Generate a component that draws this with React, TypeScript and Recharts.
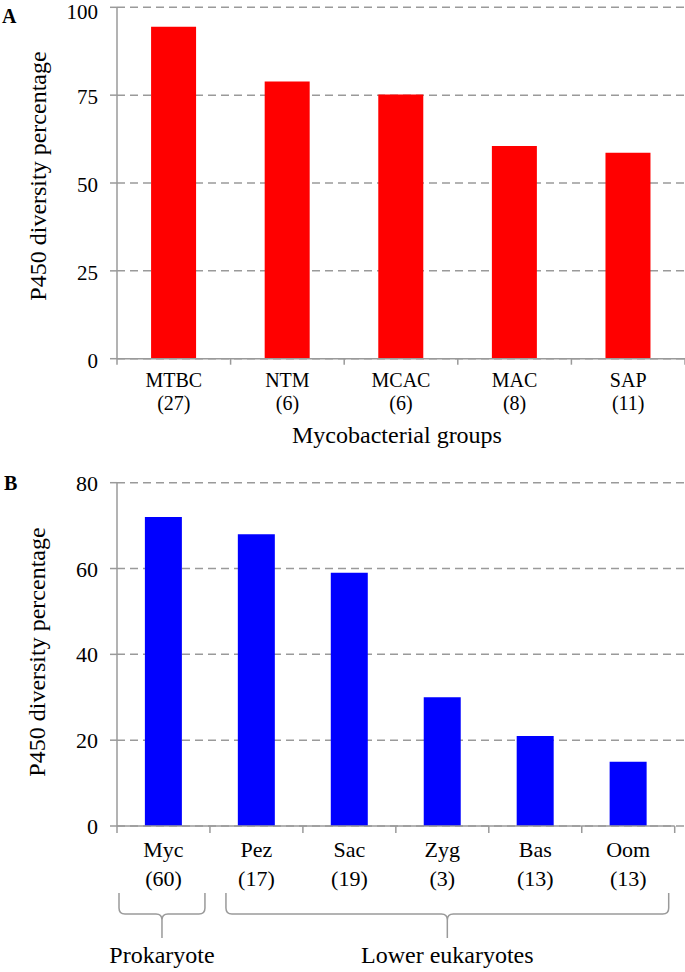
import { Bar, BarChart, CartesianGrid, XAxis, YAxis } from "recharts";

// panel A - mycobacterial groups
const groupsA = ["MTBC", "NTM", "MCAC", "MAC", "SAP"];
const countsA = [27, 6, 6, 8, 11];
const diversityA = [94.5, 78.9, 75.2, 60.5, 58.6];
const ticksA = [0, 25, 50, 75, 100];

// panel B - prokaryote vs lower eukaryotes
const groupsB = ["Myc", "Pez", "Sac", "Zyg", "Bas", "Oom"];
const countsB = [60, 17, 19, 3, 13, 13];
const diversityB = [72, 68, 59, 30, 21, 15];
const ticksB = [0, 20, 40, 60, 80];
const cladeNames = ["Prokaryote", "Lower eukaryotes"];
const cladeFirst = [0, 1];
const cladeLast = [0, 5];

const rowsA = groupsA.map((g, i) => ({ group: g, n: countsA[i], value: diversityA[i] }));
const rowsB = groupsB.map((g, i) => ({ group: g, n: countsB[i], value: diversityB[i] }));

const FONT = '"Times New Roman", "Liberation Serif", "DejaVu Serif", serif';
const GRAY = "#9a9a9a";
const W = 685;
const AXIS_W = 117;

// panel A geometry
const A_H = 455;
const A_TOP = 7.3;
const A_PLOT_H = 351.4;
const A_BAND = (W - AXIS_W) / groupsA.length;

// panel B geometry
const B_TOP_PX = 455;
const B_H = 972 - B_TOP_PX;
const B_TOP = 27.7;
const B_PLOT_H = 343.3;
const B_PAD_R = 10.3;
const B_BAND = (W - AXIS_W - B_PAD_R) / groupsB.length;

function YTick({ x, y, payload, size, shift }: any) {
  // keep the top label inside the picture
  const base = Math.max(y + shift, size * 0.92);
  return (
    <text x={x} y={base} textAnchor="end" fontSize={size} fontFamily={FONT} fill="#000">
      {payload.value}
    </text>
  );
}

function TickA({ x, y, payload }: any) {
  const i = payload.index;
  const left = x - A_BAND / 2;
  return (
    <g>
      <line x1={left} y1={y} x2={left} y2={y + 6} stroke={GRAY} strokeWidth={1.5} />
      {i === groupsA.length - 1 && (
        <line x1={x + A_BAND / 2} y1={y} x2={x + A_BAND / 2} y2={y + 6} stroke={GRAY} strokeWidth={1.5} />
      )}
      <text textAnchor="middle" fontSize={20} fontFamily={FONT} fill="#000">
        <tspan x={x} y={y + 28}>{payload.value}</tspan>
        <tspan x={x} y={y + 51}>({countsA[i]})</tspan>
      </text>
    </g>
  );
}

function TickB({ x, y, payload }: any) {
  const i = payload.index;
  const left = x - B_BAND / 2;
  const right = x + B_BAND / 2;
  return (
    <g>
      <line x1={left} y1={y} x2={right} y2={y} stroke={GRAY} strokeWidth={1.5} />
      <line x1={left} y1={y} x2={left} y2={y + 7} stroke={GRAY} strokeWidth={1.5} />
      {i === groupsB.length - 1 && (
        <line x1={right} y1={y} x2={right} y2={y + 7} stroke={GRAY} strokeWidth={1.5} />
      )}
      <text textAnchor="middle" fontSize={22} fontFamily={FONT} fill="#000">
        <tspan x={x} y={y + 31}>{payload.value}</tspan>
        <tspan x={x} y={y + 60}>({countsB[i]})</tspan>
      </text>
    </g>
  );
}

function Brace({ l, r, c }: { l: number; r: number; c: number }) {
  const top = 893;
  const mid = 914;
  const bot = 938;
  const k = 6;
  const d =
    `M${l},${top} L${l},${mid - k} Q${l},${mid} ${l + k},${mid} L${c - k},${mid} Q${c},${mid} ${c},${mid + k} L${c},${bot} ` +
    `M${r},${top} L${r},${mid - k} Q${r},${mid} ${r - k},${mid} L${c + k},${mid} Q${c},${mid} ${c},${mid + k}`;
  return <path d={d} fill="none" stroke={GRAY} strokeWidth={1.5} />;
}

export default function App() {
  const insetL = [2, 16];
  const insetR = [5, 6];
  return (
    <div style={{ position: "absolute", left: 0, top: 0, width: W, height: 972, background: "#fff", fontFamily: FONT }}>
      <div style={{ position: "absolute", left: 0, top: 0 }}>
        <BarChart
          width={W}
          height={A_H}
          data={rowsA}
          margin={{ top: A_TOP, right: 0, left: 0, bottom: 0 }}
          barCategoryGap="30%"
          style={{ fontFamily: FONT }}
        >
          <CartesianGrid vertical={false} stroke={GRAY} strokeWidth={1.5} strokeDasharray="8 5" />
          <XAxis
            dataKey="group"
            height={A_H - A_TOP - A_PLOT_H}
            axisLine={{ stroke: GRAY, strokeWidth: 1.5 }}
            tickLine={false}
            tickSize={0}
            tickMargin={0}
            interval={0}
            tick={<TickA />}
            label={() => (
              <text x={397} y={443} textAnchor="middle" fontSize={24} fontFamily={FONT} fill="#000">
                Mycobacterial groups
              </text>
            )}
          />
          <YAxis
            type="number"
            width={AXIS_W}
            domain={[0, 100]}
            ticks={ticksA}
            interval={0}
            tickSize={7}
            tickMargin={12}
            axisLine={{ stroke: GRAY, strokeWidth: 1.5 }}
            tickLine={{ stroke: GRAY, strokeWidth: 1.5 }}
            tick={<YTick size={21} shift={9} />}
            label={() => (
              <text
                transform="translate(46,176) rotate(-90)"
                textAnchor="middle"
                fontSize={24}
                fontFamily={FONT}
                fill="#000"
              >
                P450 diversity percentage
              </text>
            )}
          />
          <Bar dataKey="value" fill="#ff0000" isAnimationActive={false} />
        </BarChart>
      </div>

      <div style={{ position: "absolute", left: 0, top: B_TOP_PX }}>
        <BarChart
          width={W}
          height={B_H}
          data={rowsB}
          margin={{ top: B_TOP, right: 0, left: 0, bottom: 0 }}
          barCategoryGap="30%"
          style={{ fontFamily: FONT }}
        >
          <CartesianGrid vertical={false} stroke={GRAY} strokeWidth={1.5} strokeDasharray="8 5" />
          <XAxis
            dataKey="group"
            height={B_H - B_TOP - B_PLOT_H}
            padding={{ left: 0, right: B_PAD_R }}
            axisLine={false}
            tickLine={false}
            tickSize={0}
            tickMargin={0}
            interval={0}
            tick={<TickB />}
          />
          <YAxis
            type="number"
            width={AXIS_W}
            domain={[0, 80]}
            ticks={ticksB}
            interval={0}
            tickSize={7}
            tickMargin={12}
            axisLine={{ stroke: GRAY, strokeWidth: 1.5 }}
            tickLine={{ stroke: GRAY, strokeWidth: 1.5 }}
            tick={<YTick size={22} shift={8} />}
            label={() => (
              <text
                transform="translate(45,197) rotate(-90)"
                textAnchor="middle"
                fontSize={24}
                fontFamily={FONT}
                fill="#000"
              >
                P450 diversity percentage
              </text>
            )}
          />
          <Bar dataKey="value" fill="#0000ff" isAnimationActive={false} />
        </BarChart>
      </div>

      <svg width={W} height={972} style={{ position: "absolute", left: 0, top: 0, pointerEvents: "none" }}>
        <text x={2} y={23} fontSize={20} fontWeight="bold" fontFamily={FONT} fill="#000">A</text>
        <text x={4} y={490} fontSize={20} fontWeight="bold" fontFamily={FONT} fill="#000">B</text>
        {cladeNames.map((name, k) => {
          const l = AXIS_W + cladeFirst[k] * B_BAND + insetL[k];
          const r = AXIS_W + (cladeLast[k] + 1) * B_BAND - insetR[k];
          const c = (l + r) / 2;
          return (
            <g key={name}>
              <Brace l={l} r={r} c={c} />
              <text x={c} y={963} textAnchor="middle" fontSize={24} fontFamily={FONT} fill="#000">
                {name}
              </text>
            </g>
          );
        })}
      </svg>
    </div>
  );
}
